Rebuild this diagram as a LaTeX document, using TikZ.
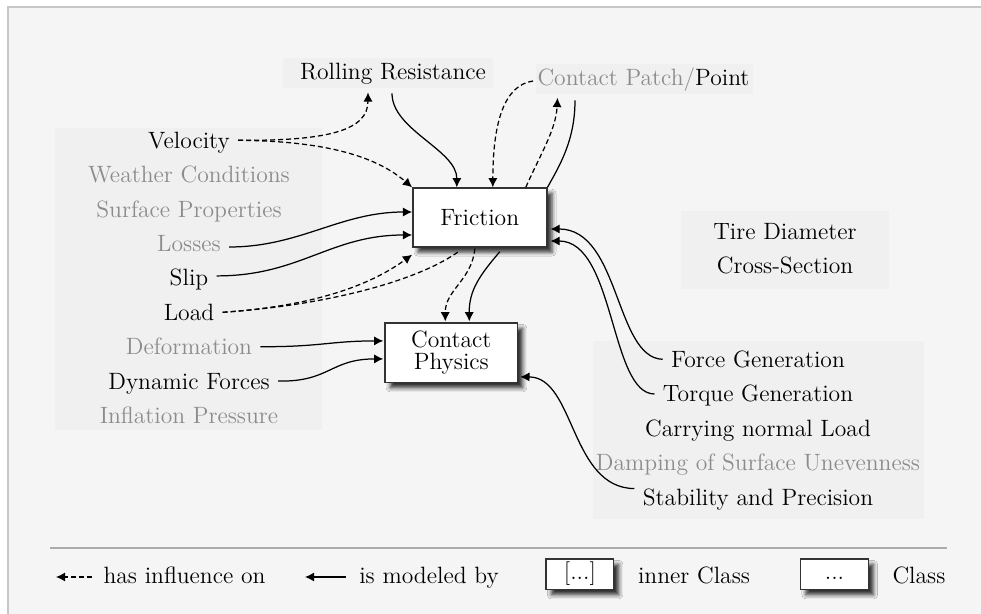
\documentclass[tikz,border=0pt]{standalone}
\usepackage{fontspec}
\usetikzlibrary{arrows.meta, calc, shadows.blur}

\newcommand\lblsize{\fontsize{11.8pt}{14pt}\selectfont}
\newcommand\boxsize{\fontsize{11.8pt}{11pt}\selectfont}

\tikzset{
  lbl/.style={font=\lblsize, inner xsep=4pt, inner ysep=0pt,
              text height=8pt, text depth=0pt, anchor=base},
  dim/.style={lbl, text=black!45},
  grp/.style={fill=black!6, draw=none, inner sep=0pt},
  cls/.style={draw=black!80, fill=white, line width=0.7pt, font=\boxsize,
              inner sep=0pt, align=center,
              blur shadow={shadow xshift=2.6pt, shadow yshift=-2.6pt,
                           shadow blur radius=2pt, shadow opacity=80}},
  keybox/.style={cls, font=\lblsize, text height=8pt, text depth=2.6pt,
                 minimum width=33.8pt, minimum height=15.3pt},
  link/.style={line width=0.62pt, -{Latex[length=4.6pt,width=4.6pt]}},
  infl/.style={link, dash pattern=on 2.5pt off 1.5pt},
}

\begin{document}
\begin{tikzpicture}[x=0.5pt, y=-0.5pt]
  \useasboundingbox (0,0) rectangle (981,614);
  \fill[white] (0,0) rectangle (981,614);
  % panel
  \fill[black!4] (8,7) rectangle (985,618);
  \draw[black!22, line width=0.6pt] (8,618) -- (8,7) -- (985,7);

  % grouped backgrounds
  \node[grp, minimum width=133.5pt, minimum height=151.25pt] (leftgrp)  at (188.5,279.25) {};
  \node[grp, minimum width=105pt,   minimum height=15pt]     (rrbox)    at (388,73) {};
  \node[grp, minimum width=108.5pt, minimum height=15pt]     (cpbox)    at (644.5,79) {};
  \node[grp, minimum width=104pt,   minimum height=39pt]     (tiregrp)  at (785,250) {};
  \node[grp, minimum width=165.5pt, minimum height=89pt]     (rightgrp) at (758.5,430) {};

  % labels on top
  \node[lbl] (rr) at (393,79.3) {Rolling Resistance};
  \node[lbl] (cp) at (643.5,85.5) {\textcolor{black!45}{Contact Patch/}Point};

  % influencing quantities
  \node[lbl] (vel)   at (189,148.3) {Velocity};
  \node[dim] (weath) at (189,182.7) {Weather Conditions};
  \node[dim] (surf)  at (189,217.1) {Surface Properties};
  \node[dim] (loss)  at (189,251.5) {Losses};
  \node[lbl] (slip)  at (189,285.9) {Slip};
  \node[lbl] (load)  at (189,320.3) {Load};
  \node[dim] (def)   at (189,354.7) {Deformation};
  \node[lbl] (dyn)   at (189,389.1) {Dynamic Forces};
  \node[dim] (infp)  at (189,423.5) {Inflation Pressure};

  % tire geometry
  \node[lbl] (diam)  at (785,240) {Tire Diameter};
  \node[lbl] (cross) at (785,273.5) {Cross-Section};

  % tire functions
  \node[lbl] (force) at (758,367.3) {Force Generation};
  \node[lbl] (torq)  at (758,402) {Torque Generation};
  \node[lbl] (carry) at (758,436.5) {Carrying normal Load};
  \node[dim] (damp)  at (758,471) {Damping of Surface Unevenness};
  \node[lbl] (stab)  at (758,505.6) {Stability and Precision};

  % classes
  \node[cls, minimum width=67pt, minimum height=29.5pt] (fric) at (479.8,217.5) {Friction};
  \node[cls, minimum width=66.3pt, minimum height=29.8pt] (phys) at (451.3,352.9) {Contact\\Physics};

  % connectors around Friction
  \draw[infl] (vel.east) .. controls (330,141) and (368,130) .. ($(rrbox.south)+(-20,4)$);
  \draw[infl] (vel.east) .. controls (330,141) and (378,158) .. (fric.north west);
  \draw[link] ($(rrbox.south)+(4,5)$) .. controls (392,130) and (457,150) .. ($(fric.north)+(-23,0)$);
  \draw[infl] ($(cpbox.west)+(-2.5,2)$) .. controls (505,85) and (493,120) .. ($(fric.north)+(13,0)$);
  \draw[infl] ($(fric.north)+(46,0)$) .. controls (540,155) and (556,130) .. ($(cpbox.south)+(-87,3.5)$);
  \draw[link, -] ($(cpbox.south)+(-69.5,6)$) .. controls (575,140) and (560,165) .. (fric.north east);
  \draw[link] ($(loss.east)+(0,3.5)$) .. controls (300,247) and (340,212) .. ($(fric.west)+(0,-5.5)$);
  \draw[link] ($(slip.east)+(0,-2)$) .. controls (300,276) and (330,235) .. ($(fric.west)+(0,17.5)$);
  \draw[infl] (load.east) .. controls (330,305) and (380,278) .. ($(fric.south west)+(0,7)$);
  \draw[infl, -] (load.east) .. controls (330,305) and (420,280) .. ($(fric.south)+(-20,3)$);
  \draw[link] (force.west) .. controls (615,358) and (620,229) .. ($(fric.east)+(3,11.5)$);
  \draw[link] (torq.west) .. controls (610,394) and (615,241) .. ($(fric.east)+(3,23.5)$);

  % connectors around Contact Physics
  \draw[infl] ($(fric.south)+(-5,1)$) .. controls (472,280) and (445,290) .. ($(phys.north)+(-6,-1)$);
  \draw[link] ($(fric.south)+(20,4)$) .. controls (480,275) and (469,290) .. ($(phys.north)+(18,-1)$);
  \draw[link] (def.east) .. controls (320,347) and (330,341) .. ($(phys.west)+(-1,-12)$);
  \draw[link] (dyn.east) .. controls (330,382) and (330,359) .. ($(phys.west)+(-1,6)$);
  \draw[link] ($(stab.west)+(0,-9)$) .. controls (570,488) and (575,377) .. ($(phys.east)+(2,24)$);

  % legend
  \draw[black!33, line width=0.6pt] (50,548) -- (947,548);
  \coordinate (la) at (92,577);  \coordinate (lb) at (56,577);
  \coordinate (lc) at (346,577); \coordinate (ld) at (305,577);
  \draw[infl] (la) -- (lb);
  \node[lbl] (l1) at (184.5,583.3) {has influence on};
  \draw[link] (lc) -- (ld);
  \node[lbl] (l2) at (429,583.3) {is modeled by};
  \node[keybox] (inner) at (579.9,574.4) {[...]};
  \node[lbl] (l3) at (694,583.3) {inner Class};
  \node[keybox] (outer) at (834.5,574.4) {...};
  \node[lbl] (l4) at (919,583.3) {Class};
\end{tikzpicture}
\end{document}
